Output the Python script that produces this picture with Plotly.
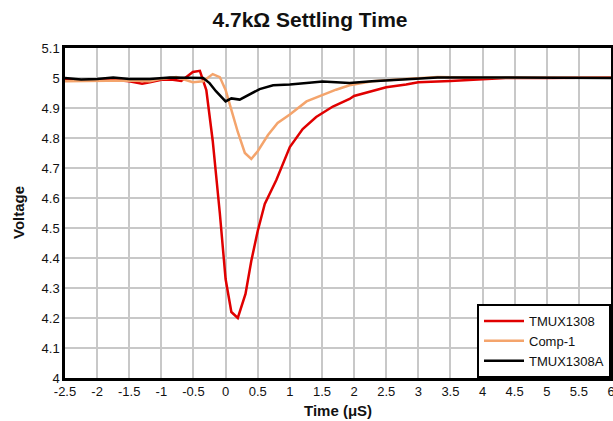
import plotly.graph_objects as go

# TMUX1308 (red)
red_x = [-2.5, -2.25, -2.0, -1.75, -1.5, -1.3, -1.18, -1.0, -0.85, -0.69, -0.51, -0.40, -0.30, -0.20,
         -0.09, 0.0, 0.09, 0.19, 0.31, 0.40, 0.50, 0.61, 0.79, 1.0, 1.20, 1.41, 1.67, 1.93, 2.0, 2.28,
         2.5, 2.81, 3.0, 3.5, 4.0, 4.36, 5.0, 6.0]
red_y = [4.994, 4.992, 4.994, 4.994, 4.989, 4.981, 4.986, 4.994, 4.995, 4.99, 5.02, 5.024, 4.96, 4.79,
         4.55, 4.33, 4.22, 4.20, 4.28, 4.39, 4.49, 4.58, 4.66, 4.77, 4.83, 4.87, 4.905, 4.93, 4.94, 4.956,
         4.969, 4.978, 4.986, 4.99, 4.997, 5.0, 5.0, 5.002]

# Comp-1 (orange)
comp_x = [-2.5, -2.0, -1.5, -1.18, -1.0, -0.77, -0.51, -0.35, -0.2, -0.09, 0.0, 0.09, 0.19, 0.30,
          0.40, 0.50, 0.66, 0.81, 1.0, 1.26, 1.51, 1.72, 1.93, 2.28, 2.81, 3.3, 4.0, 5.0, 6.0]
comp_y = [4.989, 4.991, 4.992, 4.989, 4.997, 5.003, 4.986, 4.989, 5.013, 5.003, 4.96, 4.894, 4.82, 4.75,
          4.73, 4.756, 4.81, 4.85, 4.878, 4.922, 4.944, 4.961, 4.976, 4.989, 4.997, 5.003, 5.001, 5.0, 5.001]

# TMUX1308A (black)
a_x = [-2.5, -2.25, -2.0, -1.75, -1.5, -1.18, -0.87, -0.6, -0.35, -0.25, -0.15, 0.0, 0.09, 0.22,
       0.37, 0.53, 0.74, 1.0, 1.26, 1.51, 1.72, 1.93, 2.28, 2.5, 2.81, 3.3, 4.0, 4.5, 5.0, 6.0]
a_y = [5.0, 4.995, 4.997, 5.002, 4.997, 4.997, 5.002, 5.0, 5.0, 4.983, 4.956, 4.922, 4.932, 4.928,
       4.944, 4.963, 4.976, 4.978, 4.983, 4.988, 4.986, 4.983, 4.989, 4.992, 4.997, 5.002, 5.002, 5.001, 5.0, 5.0]

x_ticks = [-2.5, -2, -1.5, -1, -0.5, 0, 0.5, 1, 1.5, 2, 2.5, 3, 3.5, 4, 4.5, 5, 5.5, 6]
x_labels = ["-2.5", "-2", "-1.5", "-1", "-0.5", "0", "0.5", "1", "1.5", "2", "2.5", "3", "3.5", "4",
            "4.5", "5", "5.5", "6"]
y_ticks = [4.0, 4.1, 4.2, 4.3, 4.4, 4.5, 4.6, 4.7, 4.8, 4.9, 5.0, 5.1]
y_labels = ["4", "4.1", "4.2", "4.3", "4.4", "4.5", "4.6", "4.7", "4.8", "4.9", "5", "5.1"]

fig = go.Figure()
fig.add_trace(go.Scatter(x=red_x, y=red_y, mode="lines", name="TMUX1308",
                         line=dict(color="#E00000", width=2.5)))
fig.add_trace(go.Scatter(x=comp_x, y=comp_y, mode="lines", name="Comp-1",
                         line=dict(color="#F4A46C", width=2.5)))
fig.add_trace(go.Scatter(x=a_x, y=a_y, mode="lines", name="TMUX1308A",
                         line=dict(color="#000000", width=2.5)))

font = "Liberation Sans, Arial, sans-serif"
fig.update_layout(
    width=613, height=421,
    margin=dict(l=65, r=2, t=48, b=43, autoexpand=False),
    paper_bgcolor="white", plot_bgcolor="white",
    font=dict(family=font, size=13, color="#111111"),
    title=dict(text="<b>4.7kΩ Settling Time</b>", x=310 / 613, xanchor="center", xref="container",
               y=1 - 20 / 421, yanchor="middle",
               font=dict(family=font, size=21, color="#111111")),
    showlegend=True,
    legend=dict(x=1, y=0, xanchor="right", yanchor="bottom", bgcolor="white",
                bordercolor="black", borderwidth=2, font=dict(family=font, size=13),
                tracegroupgap=0, itemwidth=40),
    annotations=[
        dict(text="<b>Time (μS)</b>", x=0.5, y=-(410 - 378) / 330, xref="paper", yref="paper",
             showarrow=False, xanchor="center", yanchor="middle",
             font=dict(family=font, size=15, color="#111111")),
        dict(text="<b>Voltage</b>", x=-(65 - 18) / 546, y=0.5, xref="paper", yref="paper",
             showarrow=False, xanchor="center", yanchor="middle", textangle=-90,
             font=dict(family=font, size=15, color="#111111")),
    ],
)
fig.update_xaxes(range=[-2.5, 6], tickvals=x_ticks, ticktext=x_labels, showgrid=True,
                 gridcolor="#C8C8C8", gridwidth=1.5, showline=True, linecolor="black", linewidth=2.5,
                 mirror=True, ticks="", zeroline=False, automargin=False, ticklabeloverflow="allow",
                 tickfont=dict(family=font, size=13, color="#111111"))
fig.update_yaxes(range=[4.0, 5.1], tickvals=y_ticks, ticktext=y_labels, showgrid=True,
                 gridcolor="#C8C8C8", gridwidth=1.5, showline=True, linecolor="black", linewidth=2.5,
                 mirror=True, ticks="", zeroline=False, automargin=False,
                 tickfont=dict(family=font, size=13, color="#111111"))

fig.write_html("out.html", config={"displayModeBar": False},
               post_script="document.body.style.margin='0';document.body.style.overflow='hidden';")
